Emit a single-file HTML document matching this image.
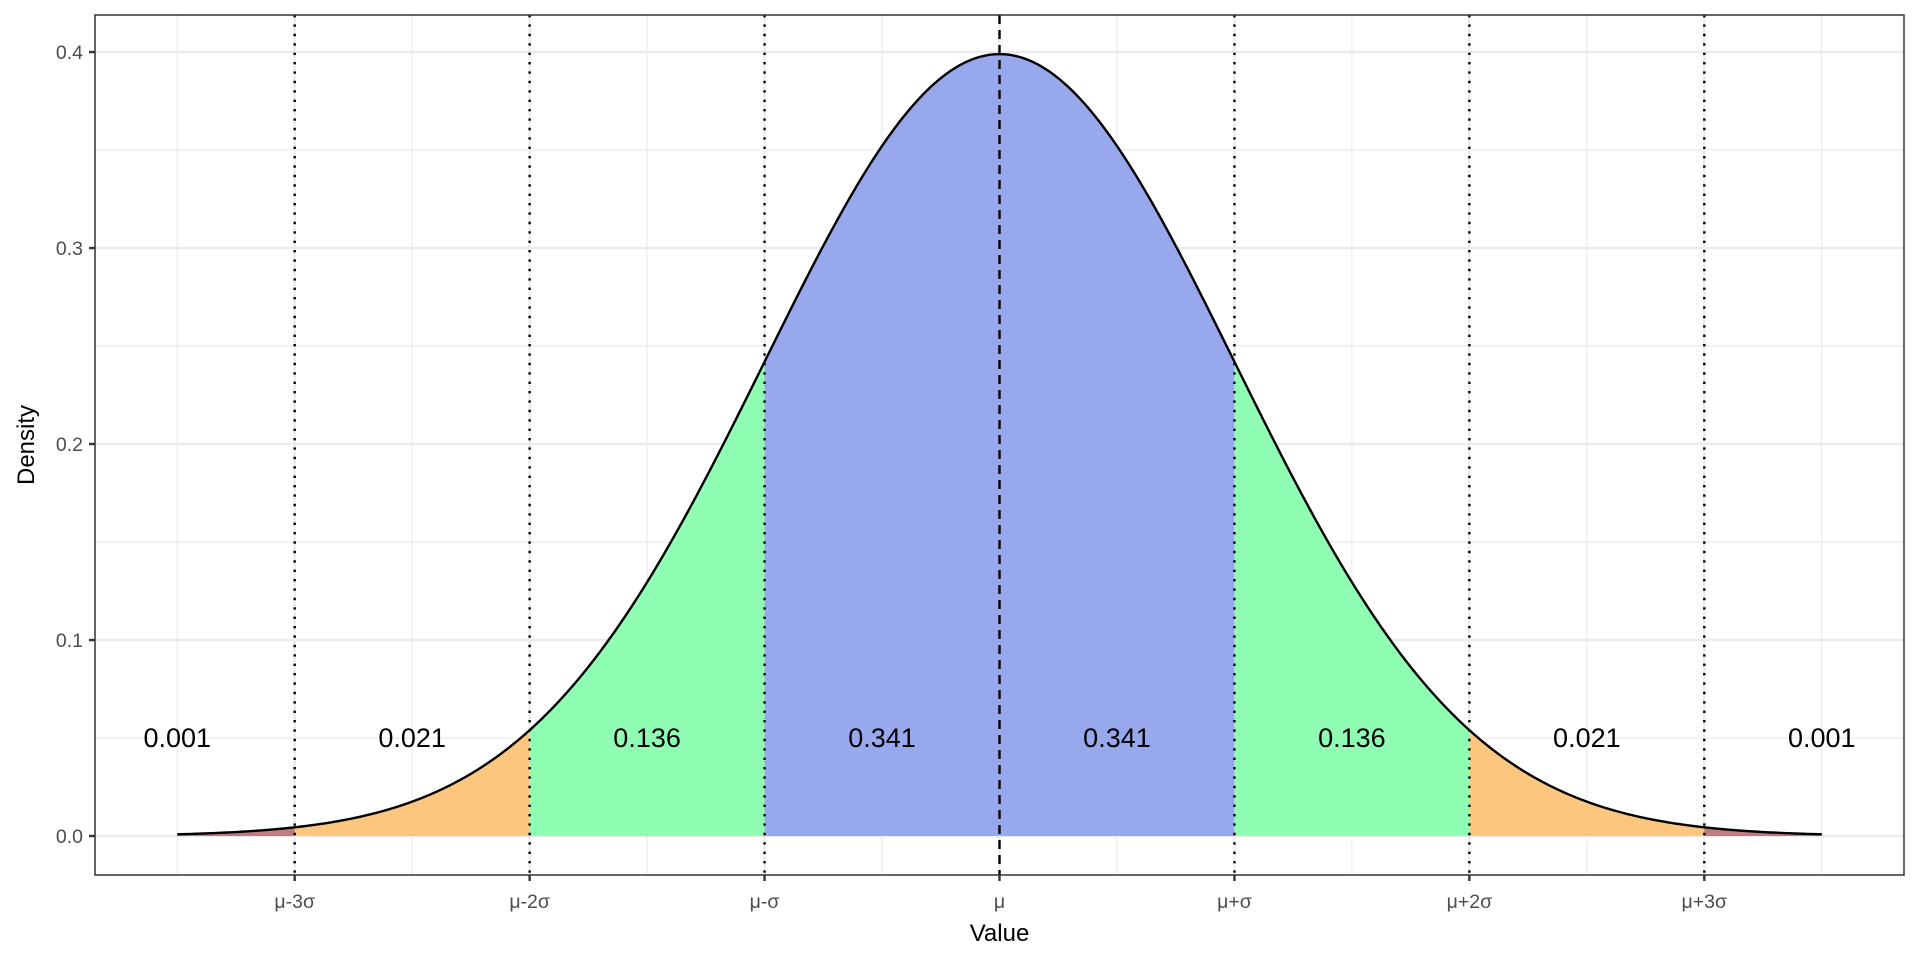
<!DOCTYPE html>
<html><head><meta charset="utf-8">
<style>
html,body{margin:0;padding:0;background:#fff;}
svg{display:block;font-family:"Liberation Sans",sans-serif;}
</style></head>
<body>
<svg id="chart" width="1920" height="960" viewBox="0 0 1920 960" xmlns="http://www.w3.org/2000/svg"></svg>
<script>
const sigmaBreaks = [-3,-2,-1,0,1,2,3];
const tickLabels = ["μ-3σ","μ-2σ","μ-σ","μ","μ+σ","μ+2σ","μ+3σ"];
const yTicks = [0,0.1,0.2,0.3,0.4];
const yTickLabels = ["0.0","0.1","0.2","0.3","0.4"];
const regionBounds = [-3.5,-3,-2,-1,0,1,2,3,3.5];
const regionProbs = ["0.001","0.021","0.136","0.341","0.341","0.136","0.021","0.001"];
const regionColors = ["#b5656b","#fdc67f","#8ffdb2","#97a8ec","#97a8ec","#8ffdb2","#fdc67f","#b5656b"];
const labelY = 0.05;

const L=95,R=1904,T=15,B=875;
const xMin=-3.85,xMax=3.85,yMin=-0.0199,yMax=0.4189;
const sx=v=>L+(v-xMin)/(xMax-xMin)*(R-L);
const sy=v=>B-(v-yMin)/(yMax-yMin)*(B-T);
const pdf=x=>Math.exp(-x*x/2)/Math.sqrt(2*Math.PI);
const svg=document.getElementById('chart');
const NS="http://www.w3.org/2000/svg";
function mk(tag,attrs,parent){const e=document.createElementNS(NS,tag);for(const k in attrs)e.setAttribute(k,attrs[k]);(parent||svg).appendChild(e);return e;}

let bg=mk('rect',{x:L,y:T,width:R-L,height:B-T,fill:'#fff'});


for(let v=-3.5;v<=3.5;v+=1){let g=mk('line',{x1:sx(v),x2:sx(v),y1:T,y2:B,stroke:'#ebebeb','stroke-width':1.2});

}
for(let i=0;i<yTicks.length;i++){let v=yTicks[i]+0.05;let g=mk('line',{x1:L,x2:R,y1:sy(v),y2:sy(v),stroke:'#ebebeb','stroke-width':1.2});

}
sigmaBreaks.forEach(v=>{let g=mk('line',{x1:sx(v),x2:sx(v),y1:T,y2:B,stroke:'#ebebeb','stroke-width':2.4});

});
yTicks.forEach(v=>{let g=mk('line',{x1:L,x2:R,y1:sy(v),y2:sy(v),stroke:'#ebebeb','stroke-width':2.4});

});
for(let i=0;i<regionProbs.length;i++){
  const a=regionBounds[i],b=regionBounds[i+1];let d=`M${sx(a)},${sy(0)}`;
  for(let k=0;k<=60;k++){const x=a+(b-a)*k/60;d+=` L${sx(x)},${sy(pdf(x))}`;}
  d+=` L${sx(b)},${sy(0)} Z`;
  let p=mk('path',{d:d,fill:regionColors[i],'fill-opacity':i===0||i===7?0.85:1});
  
  
}
let d='';for(let k=0;k<=700;k++){const x=-3.5+7*k/700;d+=(k?' L':'M')+sx(x)+','+sy(pdf(x));}
let c=mk('path',{d:d,fill:'none',stroke:'#000','stroke-width':2.4});


sigmaBreaks.forEach(v=>{let l=mk('line',{x1:sx(v),x2:sx(v),y1:T,y2:B,stroke:'#000','stroke-width':2.4,'stroke-dasharray':v===0?'9,6':'2.4,7'});

});
for(let i=0;i<regionProbs.length;i++){const m=(regionBounds[i]+regionBounds[i+1])/2;
  const cx=i===0?sx(-3.5):i===7?sx(3.5):sx(m);
  let t=mk('text',{x:cx,y:sy(labelY)+9,'text-anchor':'middle','font-size':27,fill:'#000'});t.textContent=regionProbs[i];
  
  }
let br=mk('rect',{x:L,y:T,width:R-L,height:B-T,fill:'none',stroke:'#333','stroke-width':1.5});


sigmaBreaks.forEach((v,i)=>{mk('line',{x1:sx(v),x2:sx(v),y1:B,y2:B+6,stroke:'#333','stroke-width':2.4});
  let t=mk('text',{x:sx(v),y:B+33,'text-anchor':'middle','font-size':19.5,fill:'#4d4d4d'});t.textContent=tickLabels[i];
  
  });
yTicks.forEach((v,i)=>{mk('line',{x1:L-6,x2:L,y1:sy(v),y2:sy(v),stroke:'#333','stroke-width':2.4});
  let t=mk('text',{x:L-12,y:sy(v)+7,'text-anchor':'end','font-size':19.5,fill:'#4d4d4d'});t.textContent=yTickLabels[i];
  
  });
let xt=mk('text',{x:(L+R)/2,y:941,'text-anchor':'middle','font-size':24,fill:'#000'});xt.textContent='Value';


let yt=mk('text',{x:0,y:0,'text-anchor':'middle','font-size':24,fill:'#000',transform:`translate(34,${(T+B)/2}) rotate(-90)`});yt.textContent='Density';


</script>
</body></html>
